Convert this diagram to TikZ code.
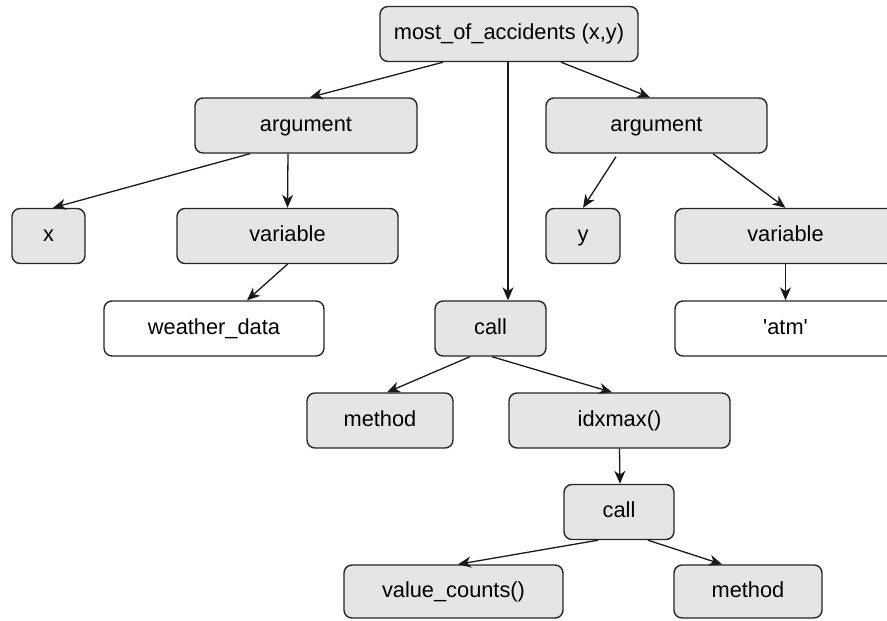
\documentclass[tikz,border=0pt]{standalone}
\usepackage{fontspec}
\newfontfamily\boxfont{Liberation Sans}
\usetikzlibrary{arrows.meta}

\begin{document}
\begin{tikzpicture}[x=1pt,y=1pt,
  box/.style={draw=black!85,line width=1.4pt,rounded corners=8pt,fill=black!10,
    inner sep=0pt,minimum height=55pt,text height=16pt,text depth=5pt,
    font=\boxfont\fontsize{21.8}{25}\selectfont},
  leaf/.style={box,fill=white},
  edge/.style={line width=1.3pt,draw=black!90,-{Stealth[length=13pt,width=11pt,inset=4pt]}}]
 \useasboundingbox (0,0) rectangle (887,-621); %枠

 %ノード
 \node[box,minimum width=258pt] (top) at (509,-34) {most\_of\_accidents (x,y)};
 \node[box,minimum width=222pt] (argl) at (306,-125.5) {argument};
 \node[box,minimum width=221pt] (argr) at (656.5,-125.5) {argument};
 \node[box,minimum width=73pt] (xn) at (48.5,-236) {x};
 \node[box,minimum width=221pt] (varl) at (287.5,-236) {variable};
 \node[box,minimum width=74pt] (yn) at (583,-236) {y};
 \node[box,minimum width=221pt] (varr) at (785.5,-236) {variable};
 \node[leaf,minimum width=220pt] (wdata) at (214,-328.5) {weather\_data};
 \node[box,minimum width=111pt] (callA) at (490.5,-328.5) {call};
 \node[leaf,minimum width=221pt] (atm) at (785.5,-328.5) {'atm'};
 \node[box,minimum width=146pt] (methA) at (380,-420.5) {method};
 \node[box,minimum width=221pt] (idx) at (619.5,-420.5) {idxmax()};
 \node[box,minimum width=110pt] (callB) at (619,-512) {call};
 \node[box,minimum width=219pt,minimum height=53pt] (vc) at (453.5,-591.5) {value\_counts()};
 \node[box,minimum width=148pt,minimum height=53pt] (methB) at (748,-591.5) {method};

 %矢印
 \draw[edge] ([xshift=-66pt]top.south)--([xshift=4pt]argl.north);
 \draw[edge] ([xshift=-1pt]top.south)--([xshift=17.5pt]callA.north);
 \draw[edge] ([xshift=52pt]top.south)--([xshift=-6.5pt]argr.north);
 \draw[edge] ([xshift=-56pt]argl.south)--([xshift=4.5pt]xn.north);
 \draw[edge] ([xshift=-18pt]argl.south)--(varl.north);
 \draw[edge] (varl.south)--([xshift=33pt]wdata.north);
 \draw[edge] ([xshift=-40.5pt,yshift=-3pt]argr.south)--(yn.north);
 \draw[edge] ([xshift=56.5pt]argr.south)--(varr.north);
 \draw[edge] (varr.south)--(atm.north);
 \draw[edge] ([xshift=-20.5pt]callA.south)--([xshift=7pt]methA.north);
 \draw[edge] ([xshift=1.5pt]callA.south)--([xshift=-7.5pt]idx.north);
 \draw[edge] (idx.south)--([xshift=1pt]callB.north);
 \draw[edge] ([xshift=-21pt]callB.south)--([xshift=4.5pt]vc.north);
 \draw[edge] ([xshift=29pt]callB.south)--([xshift=-26pt]methB.north);
\end{tikzpicture}
\end{document}
